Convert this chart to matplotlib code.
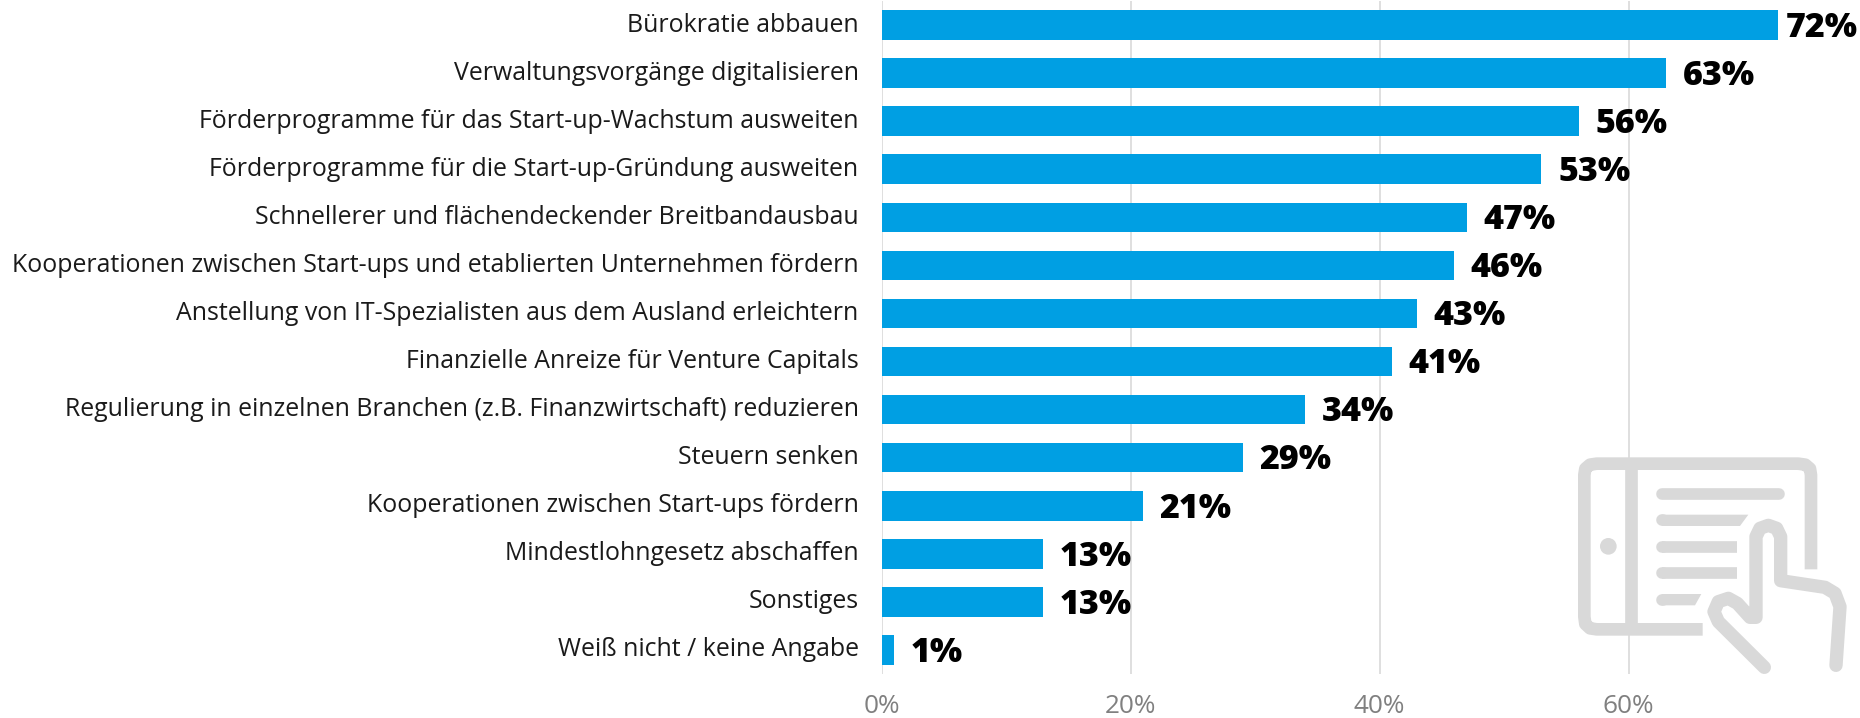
import matplotlib
matplotlib.use('Agg')
import matplotlib.pyplot as plt
from matplotlib.patches import Circle, Polygon

labels = ['Bürokratie abbauen',
          'Verwaltungsvorgänge digitalisieren',
          'Förderprogramme für das Start-up-Wachstum ausweiten',
          'Förderprogramme für die Start-up-Gründung ausweiten',
          'Schnellerer und flächendeckender Breitbandausbau',
          'Kooperationen zwischen Start-ups und etablierten Unternehmen fördern',
          'Anstellung von IT-Spezialisten aus dem Ausland erleichtern',
          'Finanzielle Anreize für Venture Capitals',
          'Regulierung in einzelnen Branchen (z.B. Finanzwirtschaft) reduzieren',
          'Steuern senken',
          'Kooperationen zwischen Start-ups fördern',
          'Mindestlohngesetz abschaffen',
          'Sonstiges',
          'Weiß nicht / keine Angabe']
values = [72, 63, 56, 53, 47, 46, 43, 41, 34, 29, 21, 13, 13, 1]
xticks = [0, 20, 40, 60]

W, H = 1860, 718
BLUE = '#009fe3'
ICON = '#d9d9d9'
plt.rcParams['font.family'] = ['Open Sans', 'DejaVu Sans']

fig = plt.figure(figsize=(W / 100, H / 100), dpi=100)

# icon sits behind the chart, drawn in pixel coords taken from the zoomed crop
bg = fig.add_axes([0, 0, 1, 1], zorder=0)
bg.set_xlim(0, W)
bg.set_ylim(H, 0)
bg.axis('off')


def ic(pts):
    return [(1500 + x / 3, 430 + y / 3) for x, y in pts]


def stroke(pts, lw=38, cap='round', join='round'):
    p = ic(pts)
    bg.plot([a[0] for a in p], [a[1] for a in p], color=ICON, lw=lw / 3 * 0.72,
            solid_capstyle=cap, solid_joinstyle=join)


# tablet frame
stroke([(608, 598), (290, 598), (270, 595), (256, 582), (253, 560), (253, 135), (256, 116),
        (270, 104), (290, 101), (895, 101), (916, 104), (930, 116), (933, 135), (933, 418)],
       cap='butt')
stroke([(394, 101), (394, 598)], cap='butt')
bg.add_patch(Circle(ic([(325, 349)])[0], 25 / 3, color=ICON, lw=0))
# text lines
stroke([(485, 191), (838, 191)], lw=35)
bg.add_patch(Polygon(ic([(485, 254), (745, 254), (720, 288), (485, 288)]), color=ICON, lw=0))
stroke([(485, 271), (490, 271)], lw=35)
stroke([(485, 350), (712, 350)], lw=35, cap='butt')
stroke([(485, 350), (490, 350)], lw=35)
stroke([(485, 430), (712, 430)], lw=35, cap='butt')
stroke([(485, 430), (490, 430)], lw=35)
bg.add_patch(Polygon(ic([(485, 492), (604, 492), (585, 526), (485, 526)]), color=ICON, lw=0))
stroke([(485, 509), (490, 509)], lw=35)
# hand
stroke([(793, 712), (655, 575), (642, 545), (655, 515), (685, 505), (712, 520), (750, 562),
        (768, 562), (768, 320), (780, 295), (805, 286), (830, 295), (842, 320), (842, 452),
        (975, 472), (1005, 490), (1020, 530), (1008, 706)], lw=40)

ax = fig.add_axes([881.5 / W, (H - 674) / H, (W - 881.5) / W, 673 / H], zorder=1)
ax.patch.set_alpha(0)
ypos = list(range(len(values)))
ax.barh(ypos, values, height=0.615, color=BLUE, zorder=3)
ax.set_xlim(0, (W - 881.5) / 12.45)
ax.set_ylim(len(values) - 0.5, -0.5)
ax.set_yticks(ypos)
ax.set_yticklabels(labels, fontsize=17.9, color='#1a1a1a', va='center')
ax.set_xticks(xticks)
ax.set_xticklabels(['%d%%' % t for t in xticks], fontsize=18.8, color='#808080')
ax.tick_params(axis='both', length=0)
ax.tick_params(axis='y', pad=16.5)
ax.tick_params(axis='x', pad=14.5)
ax.xaxis.grid(True, color='#d9d9d9', lw=1.2, zorder=1)
ax.set_axisbelow(True)
for s in ax.spines.values():
    s.set_visible(False)

for y, v in zip(ypos, values):
    # longest bar has no room, its label is pulled in towards the bar
    dx = 6 if v == max(values) else 12
    ax.annotate('%d%%' % v, (v, y), xytext=(dx, -2), textcoords='offset points', va='center',
                ha='left', fontsize=24.5, fontweight='heavy', color='black', zorder=4,
                annotation_clip=False)

fig.savefig('out.png', dpi=100)
